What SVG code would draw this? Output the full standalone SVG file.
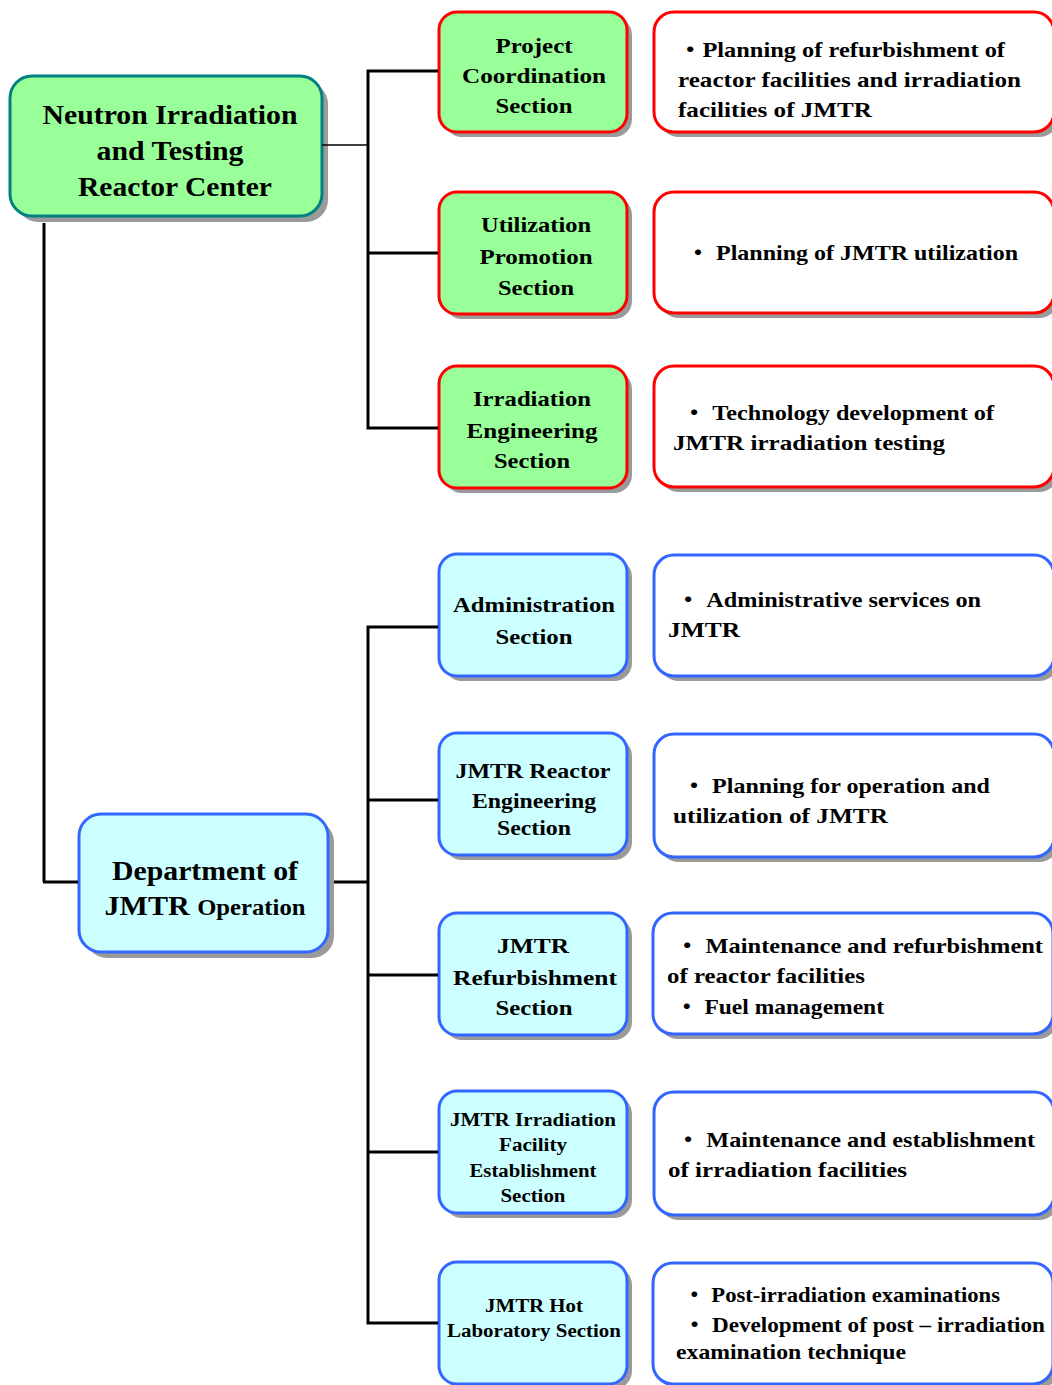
<svg xmlns="http://www.w3.org/2000/svg" width="1052" height="1385" viewBox="0 0 1052 1385">
<style>
text{font-family:"Liberation Serif","Times New Roman","Noto Sans CJK JP",serif;font-weight:bold;fill:#000}
.big{font-size:28px}
.sec{font-size:22px}
.sm{font-size:18px}
.desc{font-size:22px}
.c{text-anchor:middle}
.sh{fill:#9a9a9a}
.g{fill:#99FF99;stroke:#FF0000;stroke-width:3}
.top{fill:#99FF99;stroke:#008080;stroke-width:3}
.b{fill:#CCFFFF;stroke:#3366FF;stroke-width:3}
.wr{fill:#FFFFFF;stroke:#FF0000;stroke-width:3}
.wb{fill:#FFFFFF;stroke:#3366FF;stroke-width:3}
.ln{stroke:#000;stroke-width:3;fill:none}
.thin{stroke:#000;stroke-width:1.5;fill:none}
</style>
<rect width="1052" height="1385" fill="#fff"/>
<g id="center">
<rect class="sh" x="16" y="82" width="312" height="140" rx="22"/>
<rect class="top" x="10" y="76" width="312" height="140" rx="22"/>
<text class="big c" x="170" y="124" textLength="255" lengthAdjust="spacingAndGlyphs">Neutron Irradiation</text>
<text class="big c" x="170" y="160" textLength="147" lengthAdjust="spacingAndGlyphs">and Testing</text>
<text class="big c" x="175" y="196" textLength="194" lengthAdjust="spacingAndGlyphs">Reactor Center</text>
</g>
<g id="department">
<rect class="sh" x="85" y="820" width="249" height="138" rx="22"/>
<rect class="b" x="79" y="814" width="249" height="138" rx="22"/>
<text class="big c" x="205" y="880" textLength="186" lengthAdjust="spacingAndGlyphs">Department of</text>
<text class="c" x="205" y="915" textLength="201" lengthAdjust="spacingAndGlyphs"><tspan font-size="28">JMTR </tspan><tspan font-size="23">Operation</tspan></text>
</g>
<g id="project-coordination">
<rect class="sh" x="444" y="17" width="188" height="120" rx="18"/>
<rect class="g" x="439" y="12" width="188" height="120" rx="18"/>
<text class="sec c" x="534" y="53" textLength="77" lengthAdjust="spacingAndGlyphs">Project</text>
<text class="sec c" x="534" y="83" textLength="144" lengthAdjust="spacingAndGlyphs">Coordination</text>
<text class="sec c" x="534" y="113" textLength="77" lengthAdjust="spacingAndGlyphs">Section</text>
</g>
<g id="project-coordination-desc">
<rect class="sh" x="659" y="17" width="400" height="120" rx="20"/>
<rect class="wr" x="654" y="12" width="400" height="120" rx="20"/>
<text class="desc" x="678" y="57" textLength="327" lengthAdjust="spacingAndGlyphs">・Planning of refurbishment of</text>
<text class="desc" x="678" y="87" textLength="343" lengthAdjust="spacingAndGlyphs">reactor facilities  and irradiation</text>
<text class="desc" x="678" y="117" textLength="194" lengthAdjust="spacingAndGlyphs">facilities of JMTR</text>
</g>
<g id="utilization-promotion">
<rect class="sh" x="444" y="197" width="188" height="122" rx="18"/>
<rect class="g" x="439" y="192" width="188" height="122" rx="18"/>
<text class="sec c" x="536" y="232" textLength="110" lengthAdjust="spacingAndGlyphs">Utilization</text>
<text class="sec c" x="536" y="264" textLength="113" lengthAdjust="spacingAndGlyphs">Promotion</text>
<text class="sec c" x="536" y="295" textLength="76" lengthAdjust="spacingAndGlyphs">Section</text>
</g>
<g id="utilization-promotion-desc">
<rect class="sh" x="659" y="197" width="400" height="121" rx="20"/>
<rect class="wr" x="654" y="192" width="400" height="121" rx="20"/>
<text class="desc" x="686" y="260" textLength="332" lengthAdjust="spacingAndGlyphs">・ Planning of JMTR utilization</text>
</g>
<g id="irradiation-engineering">
<rect class="sh" x="444" y="371" width="188" height="122" rx="18"/>
<rect class="g" x="439" y="366" width="188" height="122" rx="18"/>
<text class="sec c" x="532" y="406" textLength="118" lengthAdjust="spacingAndGlyphs">Irradiation</text>
<text class="sec c" x="532" y="438" textLength="131" lengthAdjust="spacingAndGlyphs">Engineering</text>
<text class="sec c" x="532" y="468" textLength="76" lengthAdjust="spacingAndGlyphs">Section</text>
</g>
<g id="irradiation-engineering-desc">
<rect class="sh" x="659" y="371" width="400" height="121" rx="20"/>
<rect class="wr" x="654" y="366" width="400" height="121" rx="20"/>
<text class="desc" x="682" y="420" textLength="312" lengthAdjust="spacingAndGlyphs">・ Technology development of</text>
<text class="desc" x="673" y="450" textLength="272" lengthAdjust="spacingAndGlyphs">JMTR irradiation testing</text>
</g>
<g id="administration">
<rect class="sh" x="444" y="559" width="188" height="122" rx="18"/>
<rect class="b" x="439" y="554" width="188" height="122" rx="18"/>
<text class="sec c" x="534" y="612" textLength="162" lengthAdjust="spacingAndGlyphs">Administration</text>
<text class="sec c" x="534" y="644" textLength="77" lengthAdjust="spacingAndGlyphs">Section</text>
</g>
<g id="administration-desc">
<rect class="sh" x="659" y="560" width="400" height="121" rx="20"/>
<rect class="wb" x="654" y="555" width="400" height="121" rx="20"/>
<text class="desc" x="676" y="607" textLength="305" lengthAdjust="spacingAndGlyphs">・ Administrative services  on</text>
<text class="desc" x="668" y="637" textLength="72" lengthAdjust="spacingAndGlyphs">JMTR</text>
</g>
<g id="reactor-engineering">
<rect class="sh" x="444" y="738" width="188" height="122" rx="18"/>
<rect class="b" x="439" y="733" width="188" height="122" rx="18"/>
<text class="c" font-size="20" x="533" y="778" textLength="155" lengthAdjust="spacingAndGlyphs">JMTR Reactor</text>
<text class="c" font-size="20" x="534" y="808" textLength="124" lengthAdjust="spacingAndGlyphs">Engineering</text>
<text class="c" font-size="20" x="534" y="835" textLength="74" lengthAdjust="spacingAndGlyphs">Section</text>
</g>
<g id="reactor-engineering-desc">
<rect class="sh" x="659" y="739" width="400" height="123" rx="20"/>
<rect class="wb" x="654" y="734" width="400" height="123" rx="20"/>
<text class="desc" x="682" y="793" textLength="308" lengthAdjust="spacingAndGlyphs">・ Planning for operation and</text>
<text class="desc" x="673" y="823" textLength="215" lengthAdjust="spacingAndGlyphs">utilization of JMTR</text>
</g>
<g id="refurbishment">
<rect class="sh" x="444" y="918" width="188" height="122" rx="18"/>
<rect class="b" x="439" y="913" width="188" height="122" rx="18"/>
<text class="sec c" x="533" y="953" textLength="72" lengthAdjust="spacingAndGlyphs">JMTR</text>
<text class="sec c" x="535" y="985" textLength="164" lengthAdjust="spacingAndGlyphs">Refurbishment</text>
<text class="sec c" x="534" y="1015" textLength="77" lengthAdjust="spacingAndGlyphs">Section</text>
</g>
<g id="refurbishment-desc">
<rect class="sh" x="658" y="918" width="400" height="121" rx="20"/>
<rect class="wb" x="653" y="913" width="400" height="121" rx="20"/>
<text class="desc" x="675" y="953" textLength="368" lengthAdjust="spacingAndGlyphs">・ Maintenance and refurbishment</text>
<text class="desc" x="667" y="983" textLength="198" lengthAdjust="spacingAndGlyphs">of reactor facilities</text>
<text class="desc" x="675" y="1014" textLength="209" lengthAdjust="spacingAndGlyphs">・ Fuel management</text>
</g>
<g id="irradiation-facility">
<rect class="sh" x="444" y="1096" width="188" height="122" rx="18"/>
<rect class="b" x="439" y="1091" width="188" height="122" rx="18"/>
<text class="sm c" x="533" y="1126" textLength="166" lengthAdjust="spacingAndGlyphs">JMTR Irradiation</text>
<text class="sm c" x="533" y="1151" textLength="68" lengthAdjust="spacingAndGlyphs">Facility</text>
<text class="sm c" x="533" y="1177" textLength="127" lengthAdjust="spacingAndGlyphs">Establishment</text>
<text class="sm c" x="533" y="1202" textLength="65" lengthAdjust="spacingAndGlyphs">Section</text>
</g>
<g id="irradiation-facility-desc">
<rect class="sh" x="659" y="1097" width="400" height="123" rx="20"/>
<rect class="wb" x="654" y="1092" width="400" height="123" rx="20"/>
<text class="desc" x="676" y="1147" textLength="359" lengthAdjust="spacingAndGlyphs">・ Maintenance and establishment</text>
<text class="desc" x="668" y="1177" textLength="239" lengthAdjust="spacingAndGlyphs">of irradiation  facilities</text>
</g>
<g id="hot-laboratory">
<rect class="sh" x="444" y="1267" width="188" height="122" rx="18"/>
<rect class="b" x="439" y="1262" width="188" height="122" rx="18"/>
<text class="sm c" x="534" y="1312" textLength="98" lengthAdjust="spacingAndGlyphs">JMTR Hot</text>
<text class="sm c" x="534" y="1337" textLength="174" lengthAdjust="spacingAndGlyphs">Laboratory Section</text>
</g>
<g id="hot-laboratory-desc">
<rect class="sh" x="658" y="1268" width="400" height="121" rx="20"/>
<rect class="wb" x="653" y="1263" width="400" height="121" rx="20"/>
<text class="desc" font-size="21" x="683" y="1302" textLength="317" lengthAdjust="spacingAndGlyphs">・ Post-irradiation examinations</text>
<text class="desc" font-size="21" x="683" y="1332" textLength="362" lengthAdjust="spacingAndGlyphs">・ Development  of post – irradiation</text>
<text class="desc" font-size="21" x="676" y="1359" textLength="230" lengthAdjust="spacingAndGlyphs">examination technique</text>
</g>
<g id="connectors">
<line class="thin" x1="322" y1="145" x2="368" y2="145"/>
<polyline class="ln" points="438,71 368,71 368,428 438,428"/>
<line class="ln" x1="368" y1="253" x2="438" y2="253"/>
<line class="ln" x1="44" y1="223" x2="44" y2="882"/>
<line class="ln" x1="43" y1="882" x2="78" y2="882"/>
<line class="ln" x1="334" y1="882" x2="368" y2="882"/>
<polyline class="ln" points="438,627 368,627 368,1323 438,1323"/>
<line class="ln" x1="368" y1="800" x2="438" y2="800"/>
<line class="ln" x1="368" y1="975" x2="438" y2="975"/>
<line class="ln" x1="368" y1="1152" x2="438" y2="1152"/>
</g>
</svg>
